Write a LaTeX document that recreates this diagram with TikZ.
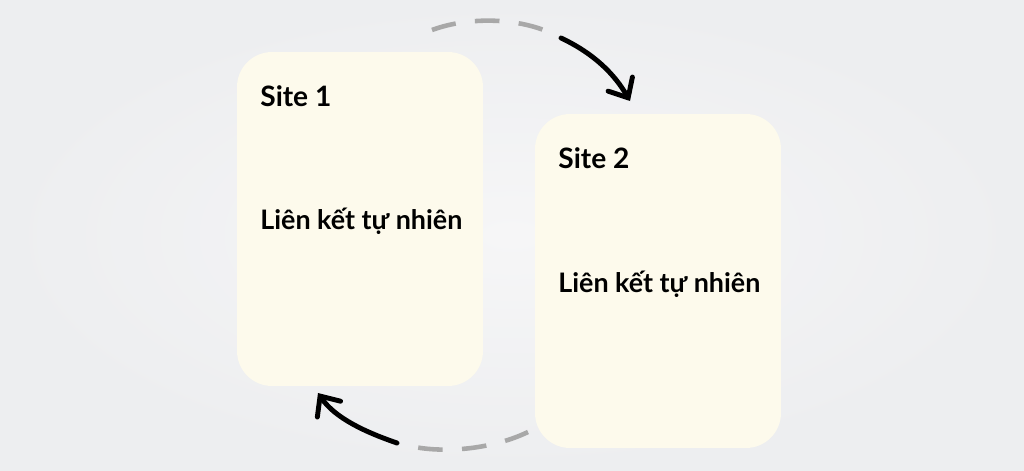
\documentclass[tikz,border=0pt]{standalone}
\usepackage{fontspec}
\setmainfont{Lato}
\usetikzlibrary{positioning, arrows.meta}

\definecolor{bgray}{HTML}{EDEEF0}
\definecolor{lgray}{HTML}{F6F6F7}
\definecolor{cream}{HTML}{FDFAEC}
\definecolor{dgray}{HTML}{A8A8A8}

\begin{document}
\begin{tikzpicture} [x=0.02cm, y=-0.02cm,
  site/.style = {fill=cream, rounded corners=0.7cm, minimum width=4.92cm, minimum height=6.68cm, inner sep=0pt},
  title/.style = {font=\fontsize{16}{19}\selectfont\bfseries, anchor=west, inner sep=0pt},
  body/.style = {font=\fontsize{15.3}{19}\selectfont\bfseries, anchor=west, inner sep=0pt},
  dashpart/.style = {draw=dgray, line width=2.6pt, dash pattern=on 14pt off 11pt},
  arrowpart/.style = {draw=black, line width=2.8pt, line cap=round, -{Straight Barb[length=9pt, width=16pt, line cap=round]}}]
\shade[inner color=lgray, outer color=bgray] (0,0) rectangle (1024,470);
\useasboundingbox (0,0) rectangle (1024,470);

\node[site] (site_one) at (360,219) {};
\node[site] (site_two) at (658,281) {};
\node[title] (title_one) at (260,96) {Site 1};
\node[title] (title_two) at (558,158) {Site 2};
\node[body] (text_one) at (260,221) {Liên kết tự nhiên};
\node[body] (text_two) at (558,284) {Liên kết tự nhiên};

\coordinate (top_start) at (432,30);
\coordinate (top_mid) at (553,34);
\coordinate (top_end) at (630,101);
\coordinate (bot_start) at (528,432);
\coordinate (bot_mid) at (405,445);
\coordinate (bot_end) at (318,393);

\draw[dashpart] (top_start) .. controls (470,16) and (520,18) .. (top_mid);
\draw[arrowpart] (561,38) .. controls (595,54) and (615,75) .. (top_end);
\draw[dashpart] (bot_start) .. controls (495,448) and (445,455) .. (bot_mid);
\draw[arrowpart] (397,443) .. controls (365,432) and (335,418) .. (bot_end);
\end{tikzpicture}
\end{document}
